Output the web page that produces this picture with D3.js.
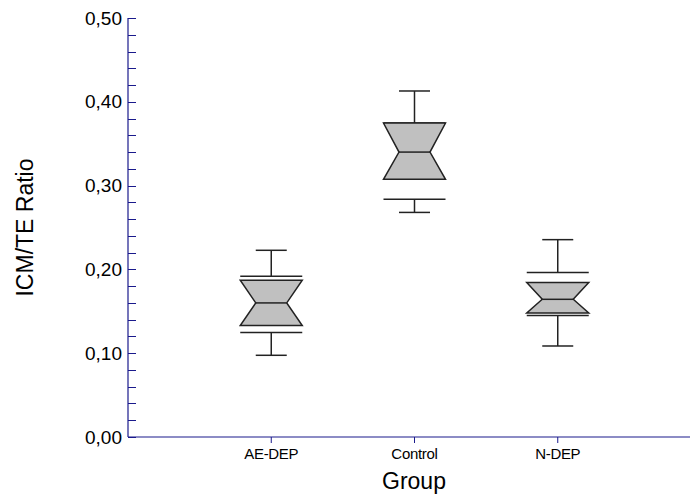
<!DOCTYPE html>
<html>
<head>
<meta charset="utf-8">
<script src="https://cdn.jsdelivr.net/npm/d3@7"></script>
<style>
  body { margin: 0; background: #fff; }
  svg { display: block; font-family: "Liberation Sans", Arial, sans-serif; }
</style>
</head>
<body>
<svg id="chart" width="690" height="500"></svg>
<script>
// values
var groups = ["AE-DEP", "Control", "N-DEP"];
var whiskerLow = [0.0975, 0.268, 0.1086];
var lowerLine = [0.1246, 0.2837, 0.1449];
var q1 = [0.133, 0.3075, 0.148];
var median = [0.160, 0.340, 0.1643];
var q3 = [0.187, 0.3747, 0.1843];
var upperLine = [0.1918, 0.3747, 0.1962];
var whiskerHigh = [0.2228, 0.4129, 0.2355];
var yTicks = [0, 0.1, 0.2, 0.3, 0.4, 0.5];

var width = 690, height = 500;
var margin = {left: 128, top: 18, bottom: 63};
var axisColor = "#1a1a8c";

var svg = d3.select("#chart");

var x = d3.scalePoint()
    .domain(groups)
    .range([margin.left, 701])
    .padding(1);

var y = d3.scaleLinear()
    .domain([0, 0.5])
    .range([height - margin.bottom, margin.top]);

var fmt = function(d) { return d3.format(".2f")(d).replace(".", ","); };

// y axis, ticks pointing inside
var yAxis = svg.append("g")
    .attr("transform", `translate(${margin.left},0)`);
yAxis.append("line")
    .attr("y1", y(0)).attr("y2", y(0.5))
    .attr("stroke", axisColor).attr("stroke-width", 1.2);
yAxis.selectAll(".minor")
    .data(d3.range(0, 0.5001, 0.02))
    .join("line")
    .attr("x1", 0).attr("x2", 8)
    .attr("y1", d => Math.round(y(d)) + 0.5).attr("y2", d => Math.round(y(d)) + 0.5)
    .attr("stroke", axisColor).attr("stroke-width", 1);
yAxis.selectAll("text")
    .data(yTicks)
    .join("text")
    .attr("x", -6)
    .attr("y", d => y(d))
    .attr("dy", "0.35em")
    .attr("text-anchor", "end")
    .style("font-size", "19px")
    .text(fmt);

// x axis
var xAxis = svg.append("g")
    .attr("transform", `translate(0,${y(0)})`);
xAxis.append("line")
    .attr("x1", margin.left).attr("x2", 701)
    .attr("stroke", axisColor).attr("stroke-width", 1.2);
xAxis.selectAll(".tick")
    .data(groups)
    .join("line")
    .attr("x1", d => x(d)).attr("x2", d => x(d))
    .attr("y1", 0).attr("y2", 6)
    .attr("stroke", axisColor).attr("stroke-width", 1);
xAxis.selectAll("text")
    .data(groups)
    .join("text")
    .attr("x", d => x(d))
    .attr("y", 22)
    .attr("text-anchor", "middle")
    .style("font-size", "15px")
    .style("letter-spacing", "-0.3px")
    .text(d => d);

// titles
svg.append("text")
    .attr("x", 414)
    .attr("y", 489)
    .attr("text-anchor", "middle")
    .style("font-size", "23px")
    .text("Group");

svg.append("text")
    .attr("transform", `translate(33,${(y(0) + y(0.5)) / 2}) rotate(-90)`)
    .attr("text-anchor", "middle")
    .style("font-size", "23px")
    .text("ICM/TE Ratio");

// boxes
var halfBox = 31, halfCap = 15.5, halfNotch = 15.5;
var lineColor = "#222";

var boxes = svg.append("g")
    .selectAll("g")
    .data(groups.map((g, i) => ({g: g, i: i})))
    .join("g");

// whiskers
boxes.append("line")
    .attr("x1", d => x(d.g)).attr("x2", d => x(d.g))
    .attr("y1", d => y(whiskerHigh[d.i])).attr("y2", d => y(upperLine[d.i]))
    .attr("stroke", lineColor).attr("stroke-width", 1.5);
boxes.append("line")
    .attr("x1", d => x(d.g)).attr("x2", d => x(d.g))
    .attr("y1", d => y(lowerLine[d.i])).attr("y2", d => y(whiskerLow[d.i]))
    .attr("stroke", lineColor).attr("stroke-width", 1.5);

// caps
[whiskerHigh, whiskerLow].forEach(function(arr) {
    boxes.append("line")
        .attr("x1", d => x(d.g) - halfCap).attr("x2", d => x(d.g) + halfCap)
        .attr("y1", d => y(arr[d.i])).attr("y2", d => y(arr[d.i]))
        .attr("stroke", lineColor).attr("stroke-width", 1.5);
});

// full width lines outside box
[upperLine, lowerLine].forEach(function(arr) {
    boxes.append("line")
        .attr("x1", d => x(d.g) - halfBox).attr("x2", d => x(d.g) + halfBox)
        .attr("y1", d => y(arr[d.i])).attr("y2", d => y(arr[d.i]))
        .attr("stroke", lineColor).attr("stroke-width", 1.5);
});

// notched box
boxes.append("path")
    .attr("d", function(d) {
        var cx = x(d.g), i = d.i;
        return d3.line()([
            [cx - halfBox, y(q3[i])],
            [cx + halfBox, y(q3[i])],
            [cx + halfNotch, y(median[i])],
            [cx + halfBox, y(q1[i])],
            [cx - halfBox, y(q1[i])],
            [cx - halfNotch, y(median[i])]
        ]) + "Z";
    })
    .attr("fill", "#c0c0c0")
    .attr("stroke", lineColor)
    .attr("stroke-width", 1.5)
    .attr("stroke-linejoin", "miter");

// median
boxes.append("line")
    .attr("x1", d => x(d.g) - halfNotch).attr("x2", d => x(d.g) + halfNotch)
    .attr("y1", d => y(median[d.i])).attr("y2", d => y(median[d.i]))
    .attr("stroke", lineColor).attr("stroke-width", 1.5);
</script>
</body>
</html>
